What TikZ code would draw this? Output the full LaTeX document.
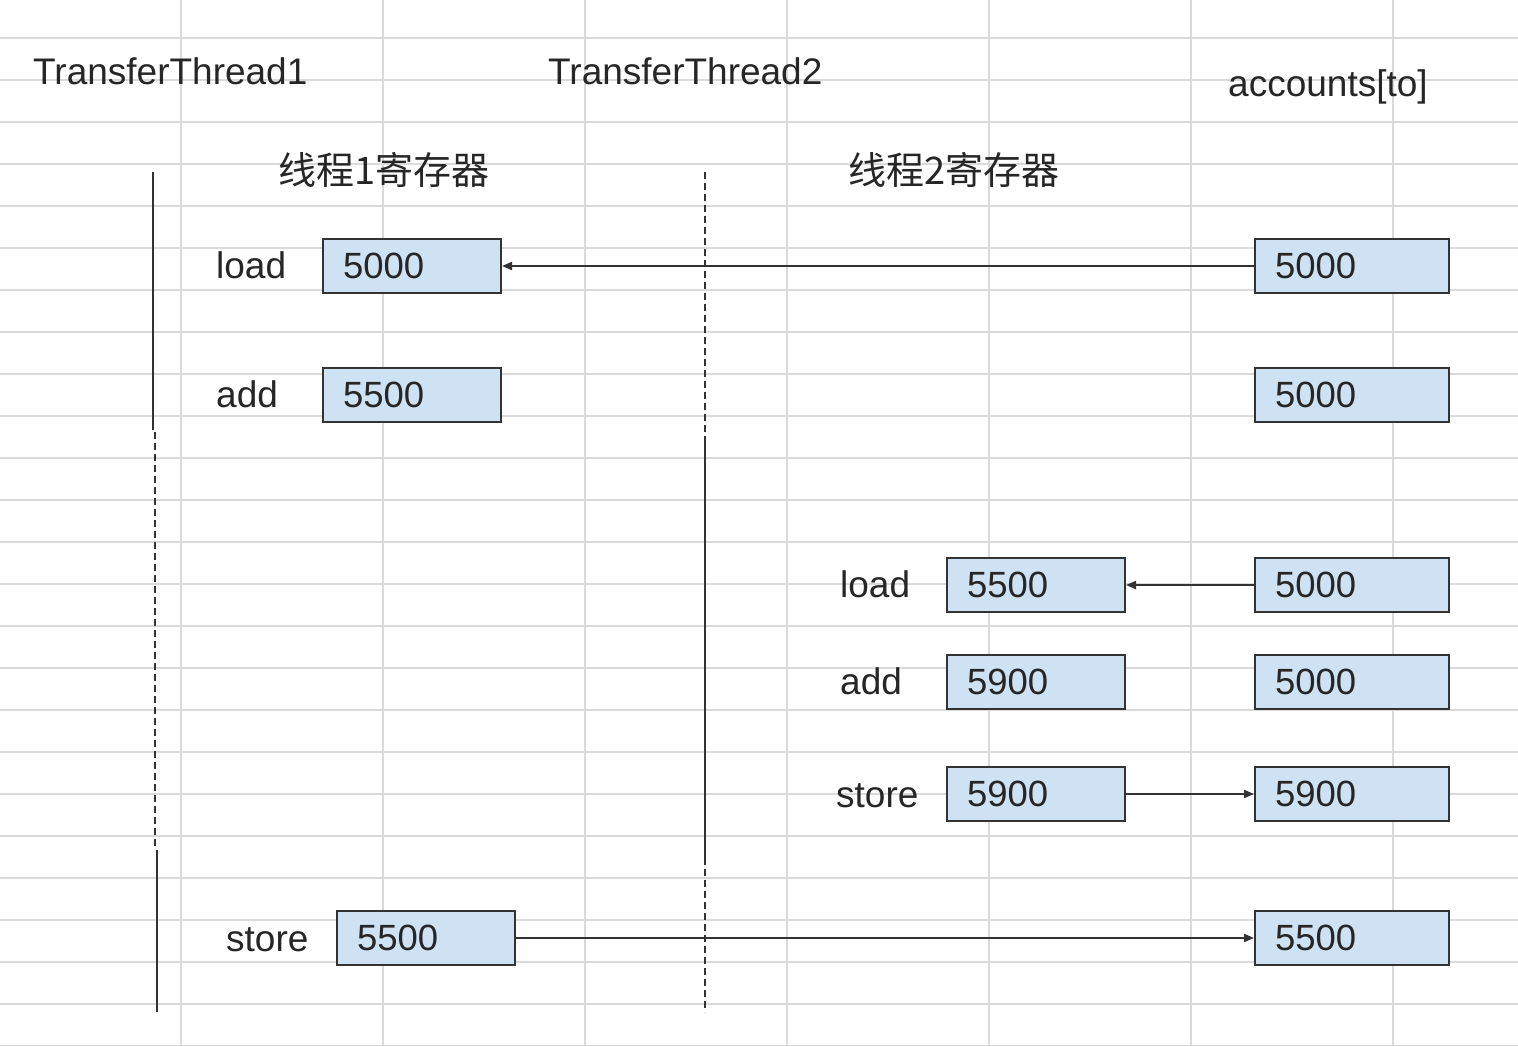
\documentclass[tikz,border=0pt]{standalone}
\usepackage{fontspec}
\setmainfont{Liberation Sans}
\newfontfamily\cjk{Noto Sans CJK SC}
\usetikzlibrary{arrows.meta}
\definecolor{gridc}{HTML}{DADADA}
\definecolor{boxfill}{HTML}{CFE2F3}
\definecolor{ink}{HTML}{333333}
\tikzset{
  gridline/.style={draw=gridc, line width=2pt},
  regbox/.style={draw=ink, fill=boxfill, line width=2pt, minimum width=178pt, minimum height=54pt,
    inner xsep=20pt, inner ysep=0pt, text width=138pt, align=left, anchor=north west,
    font=\fontsize{36.5}{40}\selectfont, text=black!85},
  accbox/.style={regbox, minimum width=194pt, text width=154pt},
  lbl/.style={inner sep=0pt, anchor=base west, font=\fontsize{37}{40}\selectfont, text=black!85},
  cjklbl/.style={inner sep=0pt, anchor=west, font=\cjk\fontsize{38}{40}\selectfont, text=black!85},
  life/.style={draw=ink, line width=2pt},
  lifedash/.style={draw=ink, line width=2.2pt, dash pattern=on 7pt off 4pt},
  conn/.style={draw=ink, line width=2pt, -{Triangle[length=10pt,width=8pt]}},
}
\begin{document}
\begin{tikzpicture}[x=1pt,y=-1pt]
\useasboundingbox (0,0) rectangle (1518,1046);
\fill[white] (0,0) rectangle (1518,1046);
% grid
\foreach \k in {0,...,24} { \draw[gridline] (0,38+42*\k) -- (1518,38+42*\k); }
\foreach \k in {0,...,6} { \draw[gridline] (181+202*\k,0) -- (181+202*\k,1046); }
% titles
\node[lbl] (t1) at (33,85) {TransferThread1};
\node[lbl] (t2) at (548,85) {TransferThread2};
\node[lbl] (acc) at (1228,97) {accounts[to]};
\node[cjklbl] (r1) at (278,170) {线程1寄存器};
\node[cjklbl] (r2) at (848,170) {线程2寄存器};
% lifelines
\coordinate (a0) at (153,172); \coordinate (a1) at (153,430);
\coordinate (a2) at (155,432); \coordinate (a3) at (155,850);
\coordinate (a4) at (157,850); \coordinate (a5) at (157,1012);
\draw[life] (a0) -- (a1);
\draw[lifedash] (a2) -- (a3);
\draw[life] (a4) -- (a5);
\coordinate (b0) at (705,172); \coordinate (b1) at (705,440);
\coordinate (b2) at (705,858); \coordinate (b3) at (705,1012);
\draw[lifedash] (b0) -- (b1);
\draw[life] (b1) -- (b2);
\draw[lifedash] (b2) -- (b3);
% thread 1
\node[lbl] (l1) at (216,278) {load};
\node[regbox] (t1load) at (322,238) {5000};
\node[lbl] (l2) at (216,407) {add};
\node[regbox] (t1add) at (322,367) {5500};
\node[lbl] (l3) at (226,951) {store};
\node[regbox] (t1store) at (336,910) {5500};
% thread 2
\node[lbl] (m1) at (840,597) {load};
\node[regbox] (t2load) at (946,557) {5500};
\node[lbl] (m2) at (840,694) {add};
\node[regbox] (t2add) at (946,654) {5900};
\node[lbl] (m3) at (836,807) {store};
\node[regbox] (t2store) at (946,766) {5900};
% accounts
\node[accbox] (c1) at (1254,238) {5000};
\node[accbox] (c2) at (1254,367) {5000};
\node[accbox] (c3) at (1254,557) {5000};
\node[accbox] (c4) at (1254,654) {5000};
\node[accbox] (c5) at (1254,766) {5900};
\node[accbox] (c6) at (1254,910) {5500};
% connectors
\draw[conn] (c1.west) -- (t1load.east);
\draw[conn] (c3.west) -- (t2load.east);
\draw[conn] (t2store.east) -- (c5.west);
\draw[conn] (t1store.east) -- (c6.west);
\end{tikzpicture}
\end{document}
